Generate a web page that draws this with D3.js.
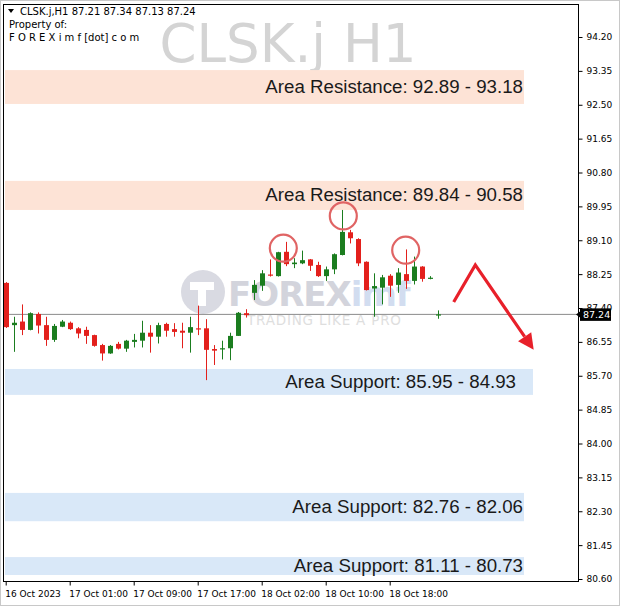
<!DOCTYPE html>
<html><head><meta charset="utf-8">
<script src="https://cdn.jsdelivr.net/npm/d3@7"></script>
<style>
html,body{margin:0;padding:0;background:#fff;}
svg{display:block;}
</style></head>
<body>
<script>
// ---- DATA ----
const symbol = "CLSK.j,H1";
const lastOHLC = [87.21, 87.34, 87.13, 87.24];
const opens  = [88.03,86.97,87.06,86.85,87.25,86.97,86.60,86.93,87.03,86.89,86.85,86.72,86.47,86.26,86.50,86.38,86.55,86.58,86.78,86.68,87.00,86.87,86.83,86.78,86.89,86.89,86.37,86.36,86.39,86.70,87.27,87.78,87.96,88.24,88.20,88.81,88.50,88.52,88.62,88.48,88.20,88.37,88.73,89.30,89.13,88.56,87.89,87.91,88.21,87.98,88.25,88.08,88.44,88.15,87.21];
const highs  = [88.05,87.18,87.49,87.29,87.29,87.18,87.00,87.10,87.06,86.92,86.93,86.73,86.50,86.47,86.55,86.60,86.75,87.08,86.97,87.03,87.03,87.02,87.03,87.18,87.46,87.12,86.47,86.58,86.78,87.30,87.37,88.10,88.35,88.62,88.81,89.06,88.65,88.84,88.63,88.56,88.44,88.77,89.86,89.36,89.15,88.57,88.27,88.23,88.25,88.40,88.87,88.69,88.45,88.20,87.34];
const lows   = [86.90,86.30,86.72,86.84,86.76,86.45,86.55,86.92,86.85,86.64,86.50,86.43,86.08,86.25,86.36,86.30,86.41,86.41,86.28,86.51,86.68,86.68,86.39,86.28,86.72,85.59,85.97,86.11,86.09,86.70,87.16,87.60,87.83,88.19,88.19,88.45,88.40,88.50,88.33,88.18,88.08,88.25,88.72,89.02,88.45,87.84,87.18,87.49,87.68,87.78,87.88,87.99,88.06,88.12,87.13];
const closes = [86.92,87.03,86.85,87.27,86.96,86.60,86.95,87.06,86.87,86.76,86.70,86.45,86.26,86.45,86.38,86.58,86.60,86.78,86.68,86.97,86.83,86.80,86.78,86.92,86.86,86.35,86.33,86.39,86.70,87.28,87.22,87.98,88.27,88.21,88.80,88.50,88.54,88.60,88.46,88.20,88.37,88.75,89.31,89.15,88.52,87.85,87.95,88.17,87.96,88.29,88.08,88.44,88.13,88.16,87.24];

const priceTicks = [94.20,93.35,92.50,91.65,90.80,89.95,89.10,88.25,87.40,86.55,85.70,84.85,84.00,83.15,82.30,81.45,80.60];
const timeLabels = ["16 Oct 2023","17 Oct 01:00","17 Oct 09:00","17 Oct 17:00","18 Oct 02:00","18 Oct 10:00","18 Oct 18:00"];
const timeLabelIdx = [0,8,16,24,32,40,48];

const zoneLabels = ["Area Resistance: 92.89 - 93.18","Area Resistance: 89.84 - 90.58","Area Support: 85.95 - 84.93","Area Support: 82.76 - 82.06","Area Support: 81.11 - 80.73"];
const zoneKinds  = ["res","res","sup","sup","sup"];
const zoneTop    = [93.37, 90.59, 85.87, 82.76, 81.15];   // band extents as drawn
const zoneBottom = [92.52, 89.86, 85.22, 82.05, 80.70];

const circleIdx   = [34.7, 42.2, 50.0];
const circlePrice = [88.90, 89.71, 88.85];

const arrowIdx   = [56.0, 58.7, 66.0];
const arrowPrice = [87.55, 88.48, 86.35];

// ---- LAYOUT ----
const W = 620, H = 606;
const plotL = 3, plotR = 578, plotT = 4, plotB = 581;
const svg = d3.select("body").append("svg").attr("width", W).attr("height", H);
svg.append("rect").attr("x",0).attr("y",0).attr("width",W).attr("height",H).attr("fill","#fff");

const y = d3.scaleLinear().domain([80.60, 94.20]).range([579, 37]);
const x = d3.scaleLinear().domain([0, 54]).range([5.7, 437.7]);

const plot = svg.append("g");
svg.append("defs").append("clipPath").attr("id","clip")
  .append("rect").attr("x",plotL+1).attr("y",plotT+1).attr("width",plotR-plotL-1).attr("height",plotB-plotT-1);
plot.attr("clip-path","url(#clip)");

// watermark title
plot.append("text").attr("x",288).attr("y",62).attr("text-anchor","middle")
  .attr("font-family","DejaVu Sans, Verdana, sans-serif").attr("font-size",53)
  .attr("fill","#d4d4d4").text("CLSK.j H1");

// zones
const zoneEndX = [524, 524, 533, 524, 524];
const zoneTextX = [523, 523, 516, 523, 523];
zoneTop.forEach((t,i)=>{
  plot.append("rect").attr("x",5).attr("y",y(t)).attr("width",zoneEndX[i]-5)
    .attr("height",y(zoneBottom[i])-y(t))
    .attr("fill", zoneKinds[i]==="res" ? "#fde3d6" : "#d9e8f8");
  plot.append("text").attr("x",zoneTextX[i]).attr("y",(y(t)+y(zoneBottom[i]))/2+6)
    .attr("text-anchor","end").attr("font-family","Liberation Sans, Arial, sans-serif")
    .attr("font-size",18.7).attr("fill","#1a1a1a").text(zoneLabels[i]);
});

// logo watermark
const logo = plot.append("g");
logo.append("circle").attr("cx",203).attr("cy",292).attr("r",22).attr("fill","#d9dae2");
logo.append("path").attr("d","M190,282 L214,282 L214,290 L206,290 L206,306 L198,306 L198,290 L190,290 Z").attr("fill","#fff");
logo.append("text").attr("x",228).attr("y",306).attr("font-family","DejaVu Sans, sans-serif")
  .attr("font-weight","bold").attr("font-size",34).attr("fill","#d3d4dc").attr("letter-spacing",-1)
  .text("FOREX").append("tspan").attr("fill","#d2ddf0").text("imf");
logo.append("text").attr("x",247).attr("y",325).attr("font-family","DejaVu Sans, sans-serif")
  .attr("font-size",13.5).attr("fill","#dedede").attr("letter-spacing",0.8).text("TRADING LIKE A PRO");

// current price line
plot.append("line").attr("x1",plotL).attr("x2",plotR).attr("y1",y(lastOHLC[3])).attr("y2",y(lastOHLC[3]))
  .attr("stroke","#8a8a8a").attr("stroke-width",1);

// candles
const green = "#1b7d1f", red = "#e3201c";
const idx = d3.range(opens.length);
const cg = plot.append("g");
idx.forEach(i=>{
  const up = closes[i] >= opens[i];
  const col = up ? green : red;
  const cx = Math.round(x(i)) + 0.5;
  cg.append("line").attr("x1",cx).attr("x2",cx).attr("y1",y(highs[i])).attr("y2",y(lows[i]))
    .attr("stroke",col).attr("stroke-width",1);
  const top = y(Math.max(opens[i],closes[i])), bot = y(Math.min(opens[i],closes[i]));
  cg.append("rect").attr("x",cx-2.5).attr("y",top).attr("width",5).attr("height",Math.max(1.2,bot-top))
    .attr("fill",col);
});

// circles
circleIdx.forEach((c,i)=>{
  plot.append("circle").attr("cx",x(c)).attr("cy",y(circlePrice[i])).attr("r",13.5)
    .attr("fill","none").attr("stroke","#e06464").attr("stroke-width",2.2);
});

// arrow
const pts = arrowIdx.map((c,i)=>[x(c), y(arrowPrice[i])]);
const [p2,p3] = [pts[1], pts[2]];
const ang = Math.atan2(p3[1]-p2[1], p3[0]-p2[0]);
const headLen = 16, headW = 8;
const base = [p3[0]-headLen*Math.cos(ang), p3[1]-headLen*Math.sin(ang)];
plot.append("path").attr("d", d3.line()([pts[0], pts[1], base]))
  .attr("fill","none").attr("stroke","#e8202a").attr("stroke-width",3.2).attr("stroke-linejoin","miter");
plot.append("path").attr("d", `M${p3[0]},${p3[1]} L${base[0]+headW*Math.sin(ang)},${base[1]-headW*Math.cos(ang)} L${base[0]-headW*Math.sin(ang)},${base[1]+headW*Math.cos(ang)} Z`)
  .attr("fill","#e8202a");

// header texts
const hf = "Tahoma, DejaVu Sans, Verdana, sans-serif";
svg.append("path").attr("d","M8,9 L14,9 L11,13 Z").attr("fill","#000");
svg.append("text").attr("x",20).attr("y",15).attr("font-family",hf).attr("font-size",10).attr("fill","#000")
  .text(symbol + "  " + lastOHLC.map(d=>d.toFixed(2)).join(" "));
svg.append("text").attr("x",9).attr("y",28).attr("font-family",hf).attr("font-size",10).attr("fill","#000").text("Property of:");
svg.append("text").attr("x",9).attr("y",41).attr("font-family",hf).attr("font-size",10).attr("fill","#000").text("F O R E X i m f [dot] c o m");

// frame
svg.append("rect").attr("x",plotL+0.5).attr("y",plotT+0.5).attr("width",plotR-plotL).attr("height",plotB-plotT)
  .attr("fill","none").attr("stroke","#000").attr("stroke-width",1);

// right axis
const ra = svg.append("g").attr("transform",`translate(${plotR+0.5},0)`)
  .call(d3.axisRight(y).tickValues(priceTicks).tickFormat(d3.format(".2f")).tickSize(4).tickPadding(4));
ra.select(".domain").remove();
ra.selectAll("text").attr("font-family",hf).attr("font-size",9).attr("fill","#000");
ra.selectAll("line").attr("stroke","#000");

// price box (covers most of the 87.40 label, as in the terminal)
const py = y(lastOHLC[3]);
svg.append("rect").attr("x",plotR+2).attr("y",py-6).attr("width",31).attr("height",12.5).attr("fill","#000");
svg.append("path").attr("d",`M${plotR-2},${py} L${plotR+2},${py-3} L${plotR+2},${py+3} Z`).attr("fill","#000");
svg.append("text").attr("x",plotR+5).attr("y",py+3.5).attr("font-family",hf).attr("font-size",9.5).attr("fill","#fff").text(lastOHLC[3].toFixed(2));

// bottom axis
const ba = svg.append("g").attr("transform",`translate(0,${plotB+0.5})`);
ba.call(d3.axisBottom(x).tickValues(timeLabelIdx).tickFormat((d,i)=>timeLabels[i]).tickSize(4).tickPadding(5));
ba.select(".domain").remove();
ba.selectAll("line").attr("stroke","#000");
ba.selectAll("text").attr("font-family",hf).attr("font-size",9).attr("fill","#000").attr("text-anchor","start").attr("dx",-1);

// outer border
svg.append("rect").attr("x",0.5).attr("y",0.5).attr("width",W-1).attr("height",H-1)
  .attr("fill","none").attr("stroke","#c8c8c8").attr("stroke-width",1);
</script>
</body></html>
